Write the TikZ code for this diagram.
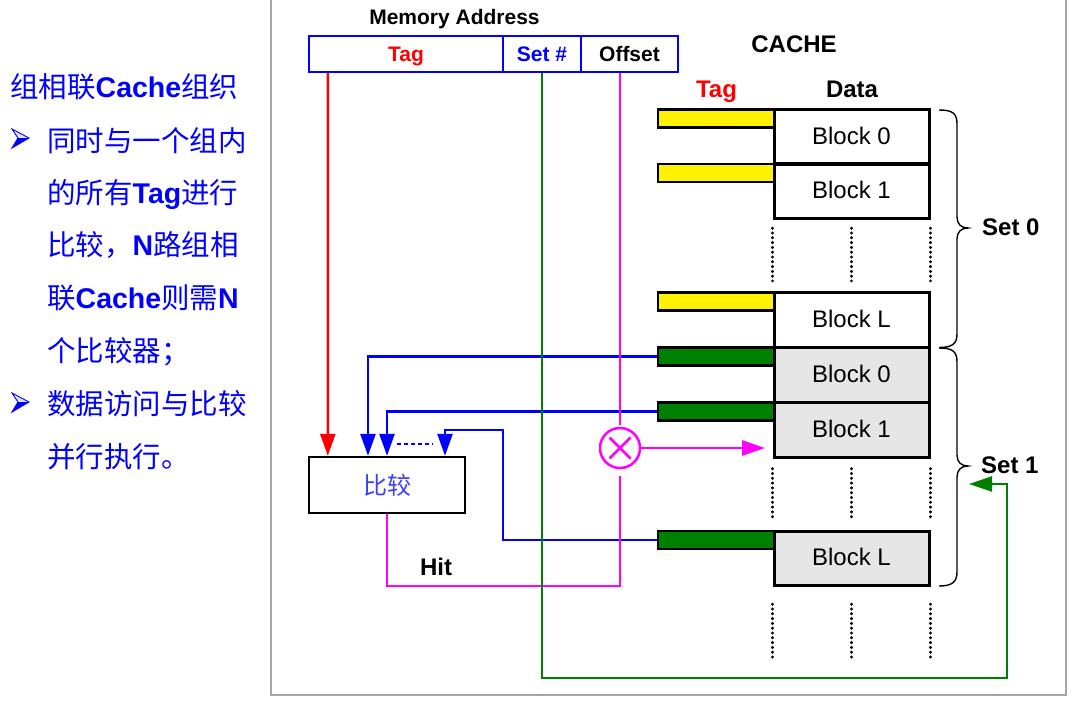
\documentclass[tikz,border=0pt]{standalone}
\usepackage{fontspec}
\setmainfont{Liberation Sans}
\newfontfamily\cjk{Noto Sans CJK SC}
\usetikzlibrary{arrows.meta}
\definecolor{mblue}{RGB}{0,0,255}
\definecolor{cmpblue}{RGB}{60,60,255}
\definecolor{dgreen}{RGB}{0,128,0}
\definecolor{mag}{RGB}{255,0,255}
\definecolor{lgray}{RGB}{230,230,230}
\definecolor{frame}{RGB}{165,165,165}
\newcommand\myfs[1]{\fontsize{#1}{#1}\selectfont}
\begin{document}
\begin{tikzpicture}[x=1pt,y=-1pt,
  blk/.style={draw, line width=3pt, minimum width=155pt, minimum height=54.5pt, inner sep=0pt,
    font=\myfs{24}, text height=15pt, text depth=0pt},
  tagy/.style={draw, line width=2.5pt, fill=yellow, minimum width=116pt, minimum height=18pt, inner sep=0pt},
  tagg/.style={tagy, fill=dgreen},
  fld/.style={draw=mblue, line width=2.3pt, minimum height=36pt, inner sep=0pt,
    font=\bfseries\myfs{21}, text height=16pt, text depth=0pt},
  lbl/.style={font=\bfseries\myfs{24}, inner sep=0pt, anchor=base},
  ltxt/.style={font=\myfs{28.5}, text=mblue, inner sep=0pt, anchor=base west},
  bl/.style={mblue, line width=2.6pt},
  arr/.style={-{Triangle[length=22pt,width=15pt]}},
  dotl/.style={line width=2.8pt, line cap=round, dash pattern=on 0.4pt off 4.4pt},
  brc/.style={line width=1.4pt},
  bul/.style={mblue, line width=0.9pt, fill=mblue!12}
]
\useasboundingbox (0,0) rectangle (1075,706);
% frame
\draw[frame, line width=2pt] (271,0) -- (271,695) -- (1066,695) -- (1066,0);

% left text
\node[ltxt] (t0) at (10,98) {{\cjk 组相联}\textbf{Cache}{\cjk 组织}};
\node[ltxt] (t1) at (47,151) {\cjk 同时与一个组内};
\node[ltxt] (t2) at (47,203) {{\cjk 的所有}\textbf{Tag}{\cjk 进行}};
\node[ltxt] (t3) at (47,255) {{\cjk 比较，}\textbf{N}{\cjk 路组相}};
\node[ltxt] (t4) at (47,308) {{\cjk 联}\textbf{Cache}{\cjk 则需}\textbf{N}};
\node[ltxt] (t5) at (47,361) {\cjk 个比较器；};
\node[ltxt] (t6) at (47,414) {\cjk 数据访问与比较};
\node[ltxt] (t7) at (47,467) {\cjk 并行执行。};
% bullets
\draw[bul] (12,129) -- (29,138) -- (12,148) -- (18,138) -- cycle;
\fill[mblue] (18,138) -- (29,138) -- (12,148) -- cycle;
\draw[bul] (12,393) -- (29,402) -- (12,412) -- (18,402) -- cycle;
\fill[mblue] (18,402) -- (29,402) -- (12,412) -- cycle;

% memory address
\node[font=\bfseries\myfs{21}, anchor=base, inner sep=0pt] (ma) at (454.5,25) {Memory Address};
\node[fld, minimum width=194pt] (tagf) at (406,54) {\textcolor{red}{Tag}};
\node[fld, minimum width=77.5pt] (setf) at (542,54) {\textcolor{mblue}{Set \#}};
\node[fld, minimum width=97pt] (offf) at (629.5,54) {Offset};

% cache headings
\node[lbl] (cache) at (794,52.3) {CACHE};
\node[lbl, text=red] (tagh) at (716.5,97.7) {Tag};
\node[lbl] (datah) at (852,97.7) {Data};

% tags
\node[tagy] (t00) at (716,118.3) {};
\node[tagy] (t01) at (716,173) {};
\node[tagy] (t0L) at (716,301.5) {};
\node[tagg] (t10) at (716,356.5) {};
\node[tagg] (t11) at (716,411.5) {};
\node[tagg] (t1L) at (716,540) {};
% blocks
\node[blk] (b00) at (851.5,136.5) {Block 0};
\node[blk] (b01) at (851.5,191.25) {Block 1};
\node[blk] (b0L) at (851.5,319.75) {Block L};
\node[blk, fill=lgray] (b10) at (851.5,374.75) {Block 0};
\node[blk, fill=lgray] (b11) at (851.5,429.75) {Block 1};
\node[blk, fill=lgray] (b1L) at (851.5,558.25) {Block L};

% dotted continuation lines
\foreach \a/\b in {south west/north west, south/north, south east/north east}{
  \draw[dotl] ([yshift=-8pt]b01.\a) -- ([yshift=10pt]b0L.\b);
  \draw[dotl] ([yshift=-10pt]b11.\a) -- ([yshift=11pt]b1L.\b);
  \draw[dotl] ([yshift=-17pt]b1L.\a) -- ([yshift=-72pt]b1L.\a);
}

% braces
\draw[brc] (939,110) .. controls (952,110) and (957,113) .. (957,124) -- (957,217)
  .. controls (957,224) and (961,228) .. (968,228)
  .. controls (961,228) and (957,232) .. (957,239) -- (957,334)
  .. controls (957,344) and (952,347.5) .. (939,347.5);
\draw[brc] (939,348) .. controls (952,348) and (957,351) .. (957,362) -- (957,455)
  .. controls (957,462) and (961,466) .. (968,466)
  .. controls (961,466) and (957,470) .. (957,477) -- (957,572)
  .. controls (957,582) and (952,586) .. (939,586);
\node[lbl, anchor=base west] (s0) at (982,235.7) {Set 0};
\node[lbl, anchor=base west] (s1) at (981,473.3) {Set 1};

% comparator
\node[draw, line width=2.4pt, minimum width=156pt, minimum height=56pt, inner sep=0pt,
  font=\cjk\myfs{24}, text=cmpblue] (cmp) at (387,485) {比较};

% red tag line
\draw[red, line width=2.5pt, arr] ([xshift=20pt]tagf.south west) -- ([xshift=20pt]cmp.north west);

% blue tag lines
\coordinate (bj) at (503,430);
\draw[bl, arr] (t10.west) -| ([xshift=-19pt]cmp.north);
\draw[bl, arr] (t11.west) -| (cmp.north);
\draw[bl, arr] (t1L.west) -| (bj) -| ([xshift=58pt]cmp.north);
\draw[mblue, line width=2pt, dash pattern=on 4pt off 3pt]
  ([xshift=10pt,yshift=12pt]cmp.north) -- ([xshift=46pt,yshift=12pt]cmp.north);

% magenta offset / mux
\node[circle, draw=mag, line width=2.5pt, minimum size=40pt, inner sep=0pt] (mul) at (620,448) {};
\draw[mag, line width=2.5pt] ([shift={(-10.5pt,10.5pt)}]mul.center) -- ([shift={(10.5pt,-10.5pt)}]mul.center);
\draw[mag, line width=2.5pt] ([shift={(-10.5pt,-10.5pt)}]mul.center) -- ([shift={(10.5pt,10.5pt)}]mul.center);
\draw[mag, line width=2.5pt] (mul.north |- offf.south) -- ([yshift=2pt]mul.north);
\coordinate (mt) at (765,448);
\draw[mag, line width=2.5pt, -{Triangle[length=23pt,width=15pt]}] (mul.east) -- (mt);
\coordinate (hb) at (387,586);
\draw[mag, line width=2.5pt] ([yshift=-7pt]mul.south) |- (hb) -- (cmp.south);
\node[lbl] (hit) at (436,575) {Hit};

% green set line
\coordinate (gc) at (1007,678);
\coordinate (gt) at (969,484);
\draw[dgreen, line width=2.5pt, -{Triangle[length=23pt,width=15pt]}] (setf.south) |- (gc) |- (gt);
\end{tikzpicture}
\end{document}
